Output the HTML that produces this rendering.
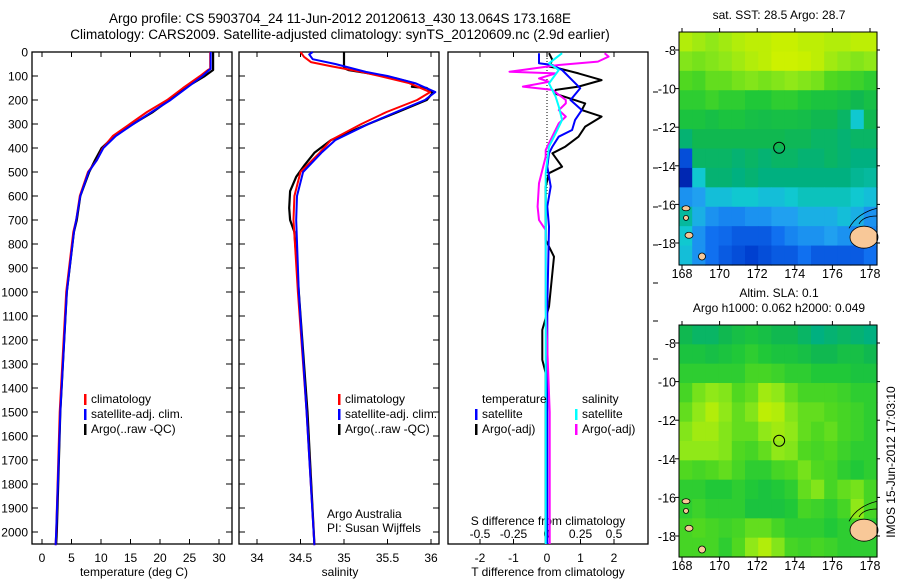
<!DOCTYPE html>
<html><head><meta charset="utf-8"><style>
html,body{margin:0;padding:0;background:#fff;}
svg{display:block;font-family:"Liberation Sans",sans-serif;}
</style></head><body>
<svg id="fig" width="900" height="580" viewBox="0 0 900 580" xmlns="http://www.w3.org/2000/svg">
<rect width="900" height="580" fill="#fff"/>
<text x="340" y="23" font-size="13.5" text-anchor="middle">Argo profile: CS 5903704_24 11-Jun-2012 20120613_430 13.064S 173.168E</text>
<text x="340" y="39" font-size="13.5" text-anchor="middle">Climatology: CARS2009. Satellite-adjusted climatology: synTS_20120609.nc (2.9d earlier)</text>
<g id="g"></g>
</svg>
<script>
// ---------- data ----------
const tDepthRed=[0,70,75,100,150,200,250,300,350,400,450,500,600,700,750,1000,1500,2000,2055];
const tRed=[28.5,28.5,28.1,26.8,23.9,21.2,17.8,14.9,12.0,10.3,9.3,7.8,6.4,5.8,5.3,4.1,3.0,2.4,2.3];
const tDepthBlue=[0,70,75,100,150,200,250,300,350,400,450,500,600,700,750,1000,1500,2000,2055];
const tBlue=[28.6,28.6,28.3,27.2,24.5,21.8,18.6,15.5,12.5,10.4,9.3,7.9,6.5,5.8,5.4,4.2,3.1,2.4,2.3];
const tDepthArgo=[0,75,100,150,200,250,300,350,400,450,500,600,700,750,1000,1500,2000,2050];
const tArgo=[29.0,29.0,27.6,24.2,21.6,18.8,15.4,12.3,10.1,9.0,8.0,6.5,5.9,5.4,4.2,3.1,2.5,2.4];

const sDepthRed=[0,20,42,60,83,100,130,167,200,250,300,367,420,500,600,700,1000,1500,2055];
const sRed=[34.5,34.54,34.62,34.86,35.2,35.41,35.75,35.99,35.84,35.49,35.2,34.85,34.72,34.5,34.43,34.42,34.47,34.57,34.66];
const sDepthBlue=[0,10,30,50,83,100,130,167,200,250,300,367,420,500,600,700,1000,1500,2055];
const sBlue=[34.64,34.6,34.64,34.9,35.25,35.5,35.82,36.05,35.93,35.6,35.28,34.9,34.74,34.53,34.46,34.45,34.48,34.57,34.66];
const sDepthArgo=[0,67,75,90,110,130,145,150,170,200,250,300,367,420,470,520,580,650,700,750,1000,1500,2050];
const sArgo=[35.0,35.0,35.05,35.3,35.6,35.8,35.78,35.95,36.02,35.95,35.62,35.28,34.85,34.66,34.55,34.45,34.38,34.37,34.38,34.43,34.48,34.58,34.66];

const dDepthTArgo=[5,33,61,68,89,117,144,158,172,214,242,269,311,353,394,422,478,505,561,783,853,1061,1158,1283,1338,1700,2050];
const dTArgo=[0.06,0.16,0.06,0.35,0.94,1.63,0.94,0.26,0.21,1.14,1.04,1.63,1.14,0.94,0.55,0.16,0.45,0.06,-0.04,-0.04,0.21,0.06,-0.14,-0.14,-0.04,-0.04,-0.04];
const dDepthTSat=[5,47,54,75,117,151,200,242,283,325,353,394,422,478,561,644,728,1061,1338,1700,2050];
const dTSat=[-0.24,-0.24,0.16,0.45,0.75,0.99,0.70,1.04,0.84,0.75,0.35,0.16,0.06,0.01,0.11,0.01,0.06,0.01,0.01,0.01,0.01];
const dDepthSSat=[5,47,75,131,186,228,283,339,394,505,783,2050];
const dSSat=[0.113,0.015,0.088,0.015,0.064,0.088,0.113,0.064,0.015,-0.01,-0.01,-0.01];
const dDepthSArgo=[5,19,40,54,82,89,110,124,144,158,200,214,242,269,297,408,436,547,644,700,742,1061,1500,2050];
const dSArgo=[0.43,0.46,0.38,0.088,-0.28,0.064,-0.06,0.015,-0.18,0.04,0.14,0.14,0.088,0.14,0.088,-0.01,-0.01,-0.06,-0.07,-0.06,-0.01,-0.01,0.02,0.02];

const depthTicks=[0,100,200,300,400,500,600,700,800,900,1000,1100,1200,1300,1400,1500,1600,1700,1800,1900,2000];
const tempTicks=[0,5,10,15,20,25,30];
const salTicks=[34,34.5,35,35.5,36];
const tDiffTicks=[-2,-1,0,1,2];
const sDiffTicks=[-0.5,-0.25,0,0.25,0.5];
const latTicks=[-8,-10,-12,-14,-16,-18];
const lonTicks=[168,170,172,174,176,178];

const sstGrid=[
[.78,.75,.72,.75,.78,.8,.8,.82,.82,.8,.8,.78,.78,.8,.8],
[.7,.68,.7,.72,.75,.78,.8,.85,.85,.82,.8,.75,.72,.7,.72],
[.62,.6,.65,.65,.68,.7,.68,.7,.72,.7,.68,.62,.6,.58,.55],
[.55,.55,.58,.55,.55,.52,.52,.55,.55,.52,.5,.5,.48,.45,.48],
[.5,.5,.48,.5,.5,.48,.47,.48,.48,.47,.45,.45,.42,.3,.45],
[.4,.45,.45,.45,.45,.45,.45,.45,.44,.44,.42,.42,.4,.42,.42],
[.1,.42,.42,.42,.4,.42,.4,.42,.42,.4,.4,.42,.4,.38,.38],
[.03,.3,.4,.4,.38,.4,.38,.38,.38,.38,.38,.38,.38,.36,.35],
[.2,.22,.28,.28,.3,.3,.28,.28,.3,.32,.32,.32,.32,.3,.28],
[.35,.25,.2,.18,.18,.2,.2,.22,.22,.25,.25,.25,.28,.25,.2],
[.3,.2,.15,.14,.12,.12,.12,.15,.18,.2,.2,.22,.2,.18,.18],
[.28,.2,.15,.12,.1,.08,.1,.12,.12,.15,.12,.12,.12,.12,.15]];
const slaGrid=[
[.45,.42,.42,.45,.48,.5,.48,.45,.45,.42,.38,.4,.42,.4,.38],
[.5,.5,.48,.5,.52,.55,.52,.5,.5,.48,.45,.45,.48,.48,.45],
[.55,.55,.55,.55,.55,.6,.6,.58,.55,.55,.52,.52,.52,.5,.5],
[.6,.68,.72,.7,.62,.65,.75,.72,.65,.6,.6,.6,.58,.55,.55],
[.65,.72,.78,.72,.65,.7,.8,.78,.7,.65,.65,.62,.6,.58,.55],
[.7,.75,.75,.7,.65,.65,.72,.75,.72,.65,.62,.65,.6,.58,.55],
[.72,.72,.72,.7,.62,.6,.65,.72,.7,.62,.6,.62,.58,.55,.55],
[.62,.6,.62,.65,.6,.55,.55,.6,.62,.68,.62,.6,.55,.52,.55],
[.55,.55,.52,.52,.55,.52,.5,.52,.55,.65,.7,.6,.65,.68,.6],
[.55,.58,.55,.55,.55,.5,.5,.5,.52,.6,.58,.55,.6,.72,.6],
[.6,.62,.6,.58,.6,.65,.65,.6,.55,.55,.55,.52,.55,.6,.55],
[.6,.6,.6,.55,.62,.72,.78,.7,.6,.58,.6,.58,.55,.55,.55]];
const argoLon=173.168, argoLat=-13.064;

// ---------- drawing ----------
const NS='http://www.w3.org/2000/svg';
const G=document.getElementById('g');
function mk(tag,attrs,parent){const e=document.createElementNS(NS,tag);for(const k in attrs)e.setAttribute(k,attrs[k]);(parent||G).appendChild(e);return e;}
function txt(x,y,s,size,anchor,parent){const e=mk('text',{x:x,y:y,'font-size':size,'text-anchor':anchor||'middle'},parent);e.textContent=s;return e;}

const TOP=52, BOT=544;
const yD=d=>TOP+d*0.24;
const xT=t=>42+t*5.9;
const xS=s=>257+(s-34)*87;
const xDT=v=>547+v*33.5;
const xDS=v=>547+v*134;

function panel(x0,x1,name){
  const g=mk('g',{});
  
  
  const r=mk('rect',{x:x0,y:TOP,width:x1-x0,height:BOT-TOP,fill:'#fff',stroke:'#000','stroke-width':1.3},g);
  
  
  return g;
}
function line(depths,vals,xf,color,w,name,parent){
  const pts=depths.map((d,i)=>xf(vals[i]).toFixed(1)+','+yD(d).toFixed(1)).join(' ');
  const p=mk('polyline',{points:pts,fill:'none',stroke:color,'stroke-width':w,'stroke-linejoin':'round'},parent);
  
  
  return p;
}
function legend(x,y,items,parent,name){
  const g=mk('g',{},parent);
  
  
  items.forEach((it,i)=>{
    const yy=y+i*15;
    if(it[0])mk('rect',{x:x,y:yy-9,width:2.5,height:11,fill:it[0]},g);
    txt(x+7,yy,it[1],12,'start',g);
  });
}

// Panel 1: temperature
const p1=panel(32,232,'temperature-panel');
depthTicks.forEach(d=>{
  mk('line',{x1:32,x2:38,y1:yD(d),y2:yD(d),stroke:'#000'},p1);
  mk('line',{x1:226,x2:232,y1:yD(d),y2:yD(d),stroke:'#000'},p1);
  const t=txt(28,yD(d)+4.5,String(d),12,'end',p1);
  
  
});
tempTicks.forEach(v=>{
  mk('line',{x1:xT(v),x2:xT(v),y1:TOP,y2:TOP+5,stroke:'#000'},p1);
  mk('line',{x1:xT(v),x2:xT(v),y1:BOT,y2:BOT-5,stroke:'#000'},p1);
  txt(xT(v),562,String(v),12,'middle',p1);
});
txt(134,576,'temperature (deg C)',12,'middle',p1);
line(tDepthArgo,tArgo,xT,'#000',2.2,'temp-argo-line',p1);
line(tDepthRed,tRed,xT,'#f00',2,'temp-climatology-line',p1);
line(tDepthBlue,tBlue,xT,'#00f',2,'temp-satellite-line',p1);
legend(84,403,[['#f00','climatology'],['#00f','satellite-adj. clim.'],['#000','Argo(..raw -QC)']],p1,'temp-legend');

// Panel 2: salinity
const p2=panel(239,439,'salinity-panel');
depthTicks.forEach(d=>{
  mk('line',{x1:239,x2:245,y1:yD(d),y2:yD(d),stroke:'#000'},p2);
  mk('line',{x1:433,x2:439,y1:yD(d),y2:yD(d),stroke:'#000'},p2);
});
salTicks.forEach(v=>{
  mk('line',{x1:xS(v),x2:xS(v),y1:TOP,y2:TOP+5,stroke:'#000'},p2);
  mk('line',{x1:xS(v),x2:xS(v),y1:BOT,y2:BOT-5,stroke:'#000'},p2);
  txt(xS(v),562,String(v),12,'middle',p2);
});
txt(340,576,'salinity',12,'middle',p2);
line(sDepthArgo,sArgo,xS,'#000',2.2,'sal-argo-line',p2);
line(sDepthRed,sRed,xS,'#f00',2,'sal-climatology-line',p2);
line(sDepthBlue,sBlue,xS,'#00f',2,'sal-satellite-line',p2);
legend(338,403,[['#f00','climatology'],['#00f','satellite-adj. clim.'],['#000','Argo(..raw -QC)']],p2,'sal-legend');
txt(327,518,'Argo Australia',12,'start',p2);
txt(327,532,'PI: Susan Wijffels',12,'start',p2);

// Panel 3: differences
const p3=panel(448,648,'difference-panel');
sDiffTicks.forEach(v=>{
  mk('line',{x1:xDS(v),x2:xDS(v),y1:TOP,y2:TOP+5,stroke:'#000'},p3);
  txt(xDS(v),538,String(v),12,'middle',p3);
});
tDiffTicks.forEach(v=>{
  mk('line',{x1:xDT(v),x2:xDT(v),y1:BOT,y2:BOT-5,stroke:'#000'},p3);
  txt(xDT(v),562,String(v),12,'middle',p3);
});
txt(548,525,'S difference from climatology',12,'middle',p3);
txt(548,576,'T difference from climatology',12,'middle',p3);
mk('line',{x1:547,x2:547,y1:TOP,y2:yD(600),stroke:'#000','stroke-dasharray':'1,2'},p3);
line(dDepthTArgo,dTArgo,xDT,'#000',2,'tdiff-argo-line',p3);
line(dDepthTSat,dTSat,xDT,'#00f',2,'tdiff-satellite-line',p3);
line(dDepthSArgo,dSArgo,xDS,'#f0f',2,'sdiff-argo-line',p3);
line(dDepthSSat,dSSat,xDS,'#0ff',2,'sdiff-satellite-line',p3);
legend(475,403,[[null,'temperature'],['#00f','satellite'],['#000','Argo(-adj)']],p3,'tdiff-legend');
legend(575,403,[[null,'salinity'],['#0ff','satellite'],['#f0f','Argo(-adj)']],p3,'sdiff-legend');
[92,130,168,207,245,283,321,359].forEach(y=>mk('line',{x1:653,x2:658,y1:y,y2:y,stroke:'#000'},p3));

// ---------- maps ----------
const stops=[[0,[0,24,160]],[0.08,[0,64,208]],[0.15,[16,112,240]],[0.22,[32,160,240]],[0.3,[16,200,208]],[0.38,[0,176,128]],[0.45,[16,184,80]],[0.52,[32,200,56]],[0.62,[80,216,32]],[0.72,[144,232,24]],[0.82,[200,240,0]],[1,[232,248,0]]];
function cmap(v){
  for(let i=1;i<stops.length;i++){if(v<=stops[i][0]){const a=stops[i-1],b=stops[i];const f=(v-a[0])/(b[0]-a[0]);const c=a[1].map((x,k)=>Math.round(x+(b[1][k]-x)*f));return 'rgb('+c.join(',')+')';}}
  return 'rgb(232,248,0)';
}
function map(top,bot,latAt8,latAt18,grid,name,title){
  const L=679,R=877;
  const g=mk('g',{});
  
  
  const lonX=lo=>682+(lo-168)*18.8;
  const latY=la=>latAt8+(-8-la)*(latAt18-latAt8)/10;
  const rows=grid.length, cols=grid[0].length;
  const cw=(R-L)/cols, ch=(bot-top)/rows;
  grid.forEach((row,r)=>row.forEach((v,c)=>{
    const cell=mk('rect',{x:(L+c*cw).toFixed(2),y:(top+r*ch).toFixed(2),width:(cw+0.6).toFixed(2),height:(ch+0.6).toFixed(2),fill:cmap(v)},g);
    
    
  }));
  const isl=[[864,latY(-17.7),14,11],[689,latY(-17.6),4,3],[702,latY(-18.7),3.5,3.5],[686,latY(-16.2),4,2.5],[686,latY(-16.7),2.5,2.5]];
  isl.forEach(e=>{const el=mk('ellipse',{cx:e[0],cy:e[1],rx:e[2],ry:e[3],fill:'#f8c898',stroke:'#000','stroke-width':0.8},g);});
  mk('path',{d:`M${R} ${latY(-16.2)} q-20 5 -28 20 M${R} ${latY(-16.6)} q-14 0 -18 8`,fill:'none',stroke:'#000','stroke-width':0.8},g);
  mk('rect',{x:L,y:top,width:R-L,height:bot-top,fill:'none',stroke:'#000','stroke-width':1},g);
  const m=mk('circle',{cx:lonX(argoLon),cy:latY(argoLat),r:5.5,fill:'none',stroke:'#000','stroke-width':1},g);
  
  
  latTicks.forEach(la=>{
    mk('line',{x1:L-4,x2:L,y1:latY(la),y2:latY(la),stroke:'#000'},g);
    mk('line',{x1:R,x2:R+3,y1:latY(la),y2:latY(la),stroke:'#000'},g);
    txt(L-3,latY(la)+5,String(la),12.5,'end',g);
  });
  lonTicks.forEach(lo=>{
    mk('line',{x1:lonX(lo),x2:lonX(lo),y1:bot,y2:bot+4,stroke:'#000'},g);
    mk('line',{x1:lonX(lo),x2:lonX(lo),y1:top-4,y2:top,stroke:'#000'},g);
    txt(lonX(lo),bot+13,String(lo),12.5,'middle',g);
  });
  title.forEach((t,i)=>txt(779,top-15*(title.length-i)+2,t,12,'middle',g));
}
map(32,265,50,243,sstGrid,'sst-map',['sat. SST: 28.5 Argo: 28.7']);
map(325,557,343,536,slaGrid,'sla-map',['Altim. SLA: 0.1','Argo h1000: 0.062 h2000: 0.049']);
const vt=txt(0,0,'IMOS 15-Jun-2012 17:03:10',12,'middle');
vt.setAttribute('transform','translate(895,462) rotate(-90)');


</script>
</body></html>
